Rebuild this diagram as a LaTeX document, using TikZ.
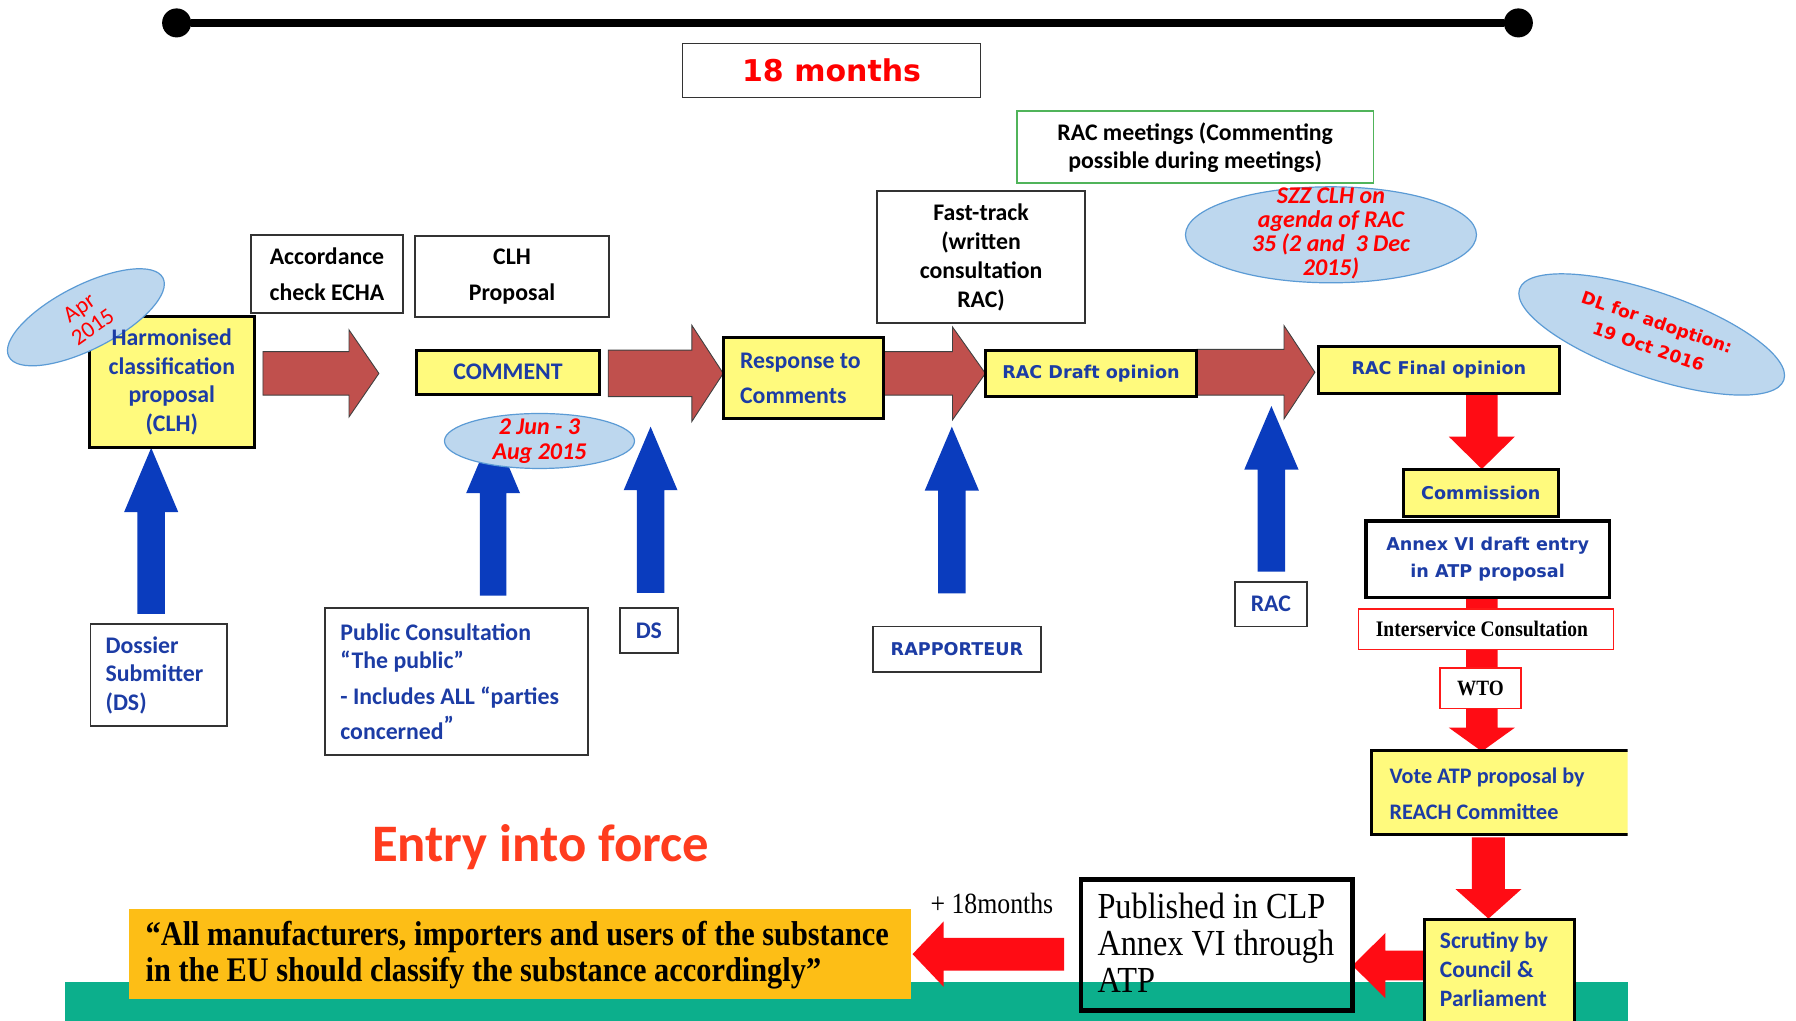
\documentclass[tikz,border=0pt]{standalone}
\usepackage{fontspec}
\setmainfont{Liberation Serif}
\newfontfamily\calfont{Carlito}
\newfontfamily\verdfont{DejaVu Sans}
\newfontfamily\narrowserif[FakeStretch=0.88]{Liberation Serif}
\usetikzlibrary{fit,shapes.geometric}

\definecolor{boxyellow}{RGB}{255,250,125}
\definecolor{textblue}{RGB}{28,60,165}
\definecolor{arrowblue}{RGB}{10,60,190}
\definecolor{brickred}{RGB}{192,80,77}
\definecolor{alertred}{RGB}{255,12,20}
\definecolor{bubblefill}{RGB}{189,215,238}
\definecolor{bubbleline}{RGB}{91,155,213}
\definecolor{meetgreen}{RGB}{80,180,90}
\definecolor{bandgreen}{RGB}{12,175,140}
\definecolor{quoteorange}{RGB}{253,190,22}
\definecolor{entryred}{RGB}{255,60,30}

% block arrow pointing up/down: [style]{x}{y start}{y head base}{y tip}{shaft half}{head half}
\newcommand\vblock[7][]{\path[#1] ({#2-#6},#3) -- ({#2-#6},#4) -- ({#2-#7},#4) -- (#2,#5)
  -- ({#2+#7},#4) -- ({#2+#6},#4) -- ({#2+#6},#3) -- cycle;}
% block arrow pointing left/right: [style]{y}{x start}{x head base}{x tip}{shaft half}{head half}
\newcommand\hblock[7][]{\path[#1] (#3,{#2-#6}) -- (#4,{#2-#6}) -- (#4,{#2-#7}) -- (#5,#2)
  -- (#4,{#2+#7}) -- (#4,{#2+#6}) -- (#3,{#2+#6}) -- cycle;}

\tikzset{
  ybox/.style={draw=black, line width=3pt, fill=boxyellow, inner sep=0pt},
  wbox/.style={draw=black!80, line width=1.8pt, fill=white, inner sep=0pt},
  cal/.style={font=\calfont\bfseries\fontsize{23.8pt}{#1}\selectfont},
  verd/.style={font=\verdfont\bfseries\fontsize{17.6pt}{#1}\selectfont},
  label/.style={inner sep=0pt, align=center},
  bluetext/.style={text=textblue},
  bubble/.style={ellipse, draw=bubbleline, line width=1.2pt, fill=bubblefill, inner sep=0pt},
  bubbletext/.style={text=red, align=center, font=\calfont\bfseries\itshape\fontsize{24pt}{24pt}\selectfont},
  brownarrow/.style={fill=brickred, draw=black!75, line width=0.9pt},
  bluearrow/.style={fill=arrowblue},
  redarrow/.style={fill=alertred},
}

\begin{document}
\begin{tikzpicture}[x=1.1454pt, y=-1.1454pt]
\useasboundingbox (0,0) rectangle (1568,891);
\fill[white] (0,0) rectangle (1568,891);

% time line
\node[circle, fill=black, minimum size=29pt, inner sep=0pt] (tl) at (154.2,20) {};
\node[circle, fill=black, minimum size=29pt, inner sep=0pt] (tr) at (1325.6,20) {};
\draw[line width=8.5pt] (tl) -- (tr);

\node[wbox, line width=1.6pt, fit={(596,38) (856,85)}] (months) {};
\node[label, text=red, font=\verdfont\bfseries\fontsize{30pt}{36pt}\selectfont] (monthstext) at (months.center) {18 months};

% upper annotation boxes
\node[wbox, draw=meetgreen, line width=1.6pt, fit={(888,97) (1199,160)}] (meet) {};
\node[label, cal=28pt] (meettext) at (meet.center) {RAC meetings (Commenting\\possible during meetings)};
\node[wbox, fit={(766,167) (947,282)}] (fast) {};
\node[label, cal=29pt] (fasttext) at (fast.center) {Fast-track\\(written\\consultation\\RAC)};
\node[wbox, fit={(219,205) (352,273)}] (accord) {};
\node[label, cal=36pt] (accordtext) at (accord.center) {Accordance\\check ECHA};
\node[wbox, fit={(362,206) (532,277)}] (clhprop) {};
\node[label, cal=36pt] (clhproptext) at (clhprop.center) {CLH\\Proposal};

% main flow arrows
\hblock[brownarrow]{326}{229.6}{304.7}{330.8}{19}{38}
\hblock[brownarrow]{326}{531}{604}{631.4}{20.3}{42}
\hblock[brownarrow]{326}{771}{831.6}{860.3}{19}{40.5}
\hblock[brownarrow]{325}{1045}{1121}{1148}{20}{40.7}

% contributions from the actors
\vblock[bluearrow]{132}{536}{447}{391}{12}{23.6}
\vblock[bluearrow]{430.5}{520}{430.5}{375}{11.5}{23.5}
\vblock[bluearrow]{568}{517.5}{428}{372.5}{12}{23.5}
\vblock[bluearrow]{831}{518}{428.4}{372.5}{12}{23.7}
\vblock[bluearrow]{1110}{499}{410}{354.5}{12}{23.7}

% adoption chain
\vblock[redarrow]{1293.7}{343}{381.2}{409.5}{13.8}{28.8}
\vblock[redarrow]{1293.7}{521}{635.3}{656}{13.8}{28.8}
\vblock[redarrow]{1299.5}{731}{776.3}{802}{14.4}{28.7}

% bottom band
\fill[bandgreen] (57,857) rectangle (1421,900);

% process steps
\node[ybox, fit={(78,276) (222,391)}] (harm) {};
\node[ybox, fit={(364,306) (523,344)}] (comment) {};
\node[label, bluetext, cal=24pt] (commenttext) at (comment.center) {COMMENT};
\node[ybox, fit={(632,295) (771,365)}] (resp) {};
\node[anchor=west, inner sep=0pt, align=left, bluetext, cal=35.5pt] (resptext) at (646,330.5) {Response to\\Comments};
\node[ybox, fit={(860,306) (1045,346)}] (draft) {};
\node[label, bluetext, verd=20pt] (drafttext) at (draft.center) {RAC Draft opinion};
\node[ybox, fit={(1150.7,302.7) (1361.7,343.4)}] (final) {};
\node[label, bluetext, verd=20pt] (finaltext) at (final.center) {RAC Final opinion};
\node[ybox, fit={(1225,410.3) (1360.7,450.5)}] (commission) {};
\node[label, bluetext, verd=20pt] (commissiontext) at (commission.center) {Commission};
\node[wbox, draw=black, line width=3.5pt, fit={(1192.6,454.7) (1405,521.8)}] (annex) {};
\node[label, bluetext, verd=27.5pt] (annextext) at (annex.center) {Annex VI draft entry\\in ATP proposal};
\node[wbox, draw=red!90, line width=1.5pt, fit={(1186,531.7) (1408.6,567)}] (inter) {};
\node[label, font=\narrowserif\bfseries\fontsize{22.2pt}{24pt}\selectfont] (intertext) at ([xshift=-4pt]inter.center) {Interservice Consultation};
\node[wbox, draw=red!90, line width=1.5pt, fit={(1257,583) (1328,618.5)}] (wto) {};
\node[label, font=\narrowserif\bfseries\fontsize{21.8pt}{24pt}\selectfont] (wtotext) at (wto.center) {WTO};
\begin{scope}
  \clip (0,0) rectangle (1421,891);
  \node[ybox, fit={(1197.5,655.5) (1450,728.7)}] (vote) {};
\end{scope}
\node[anchor=west, inner sep=0pt, align=left, bluetext, font=\calfont\bfseries\fontsize{22.2pt}{36.7pt}\selectfont]
  (votetext) at (1213,693) {Vote ATP proposal by\\REACH Committee};

% publication and entry into force
\hblock[redarrow]{843}{1243.4}{1209.5}{1180.8}{13}{28.5}
\hblock[redarrow]{833}{929}{823.8}{796.7}{14.3}{28.5}
\node[ybox, fit={(1243.4,802.5) (1374.7,905)}] (scrut) {};
\node[anchor=west, inner sep=0pt, align=left, bluetext, font=\calfont\bfseries\fontsize{23.5pt}{29.2pt}\selectfont]
  (scruttext) at (1257,846.5) {Scrutiny by\\Council \&\\Parliament};
\node[draw=black, line width=4.5pt, inner sep=0pt, fit={(943.8,768) (1180.8,882)}] (pub) {};
\node[anchor=west, inner sep=0pt, align=left, font=\narrowserif\fontsize{36.7pt}{36.7pt}\selectfont]
  (pubtext) at (958,823) {Published in CLP\\Annex VI through\\ATP};
\node[font=\narrowserif\fontsize{29.3pt}{30pt}\selectfont] (plus) at (866,789) {+ 18months};
\node[fill=quoteorange, inner sep=0pt, fit={(113,794) (795,872)}] (quote) {};
\node[anchor=west, inner sep=0pt, align=left, font=\narrowserif\bfseries\fontsize{34.5pt}{36.7pt}\selectfont]
  (quotetext) at (127,834) {“All manufacturers, importers and users of the substance\\in the EU should classify the substance accordingly”};
\node[text=entryred, font=\calfont\bfseries\fontsize{52.7pt}{60pt}\selectfont] (entry) at (472,740) {Entry into force};

% actors
\node[wbox, fit={(79,545) (198,634)}] (dossier) {};
\node[anchor=west, inner sep=0pt, align=left, bluetext, cal=28.6pt] (dossiertext) at (92,589.5) {Dossier\\Submitter\\(DS)};
\node[wbox, fit={(284,531) (513,659)}] (public) {};
\node[anchor=west, inner sep=0pt, align=left, bluetext, cal=28.6pt] (publictext) at (297,595)
  {Public Consultation\\“The public”\\[6.9pt]- Includes ALL “parties\\[6.9pt]concerned\raisebox{6pt}{”}};
\node[wbox, fit={(541,531) (592,570)}] (ds) {};
\node[label, bluetext, cal=24pt] (dstext) at (ds.center) {DS};
\node[wbox, fit={(762,547) (909,587)}] (rapp) {};
\node[label, bluetext, verd=20pt] (rapptext) at (rapp.center) {RAPPORTEUR};
\node[wbox, fit={(1078,508) (1141,547)}] (rac) {};
\node[label, bluetext, cal=24pt] (ractext) at (rac.center) {RAC};

% date bubbles
\node[bubble, minimum width=291pt, minimum height=96pt] (szz) at (1162,205) {};
\node[bubbletext] (szztext) at (1162,204) {SZZ CLH on\\agenda of RAC\\35 (2 and\ \ 3 Dec\\2015)};
\node[bubble, minimum width=190pt, minimum height=55pt] (jun) at (471,385) {};
\node[bubbletext, font=\calfont\bfseries\itshape\fontsize{24pt}{25pt}\selectfont] (juntext) at (471,385) {2 Jun - 3\\Aug 2015};
\node[bubble, rotate=-19, minimum width=279.5pt, minimum height=84.8pt] (dl) at (1442,292) {};
\node[rotate=-19, text=red, align=center, font=\verdfont\bfseries\fontsize{17.2pt}{26pt}\selectfont]
  (dltext) at (1443,292) {DL for adoption:\\19 Oct 2016};
\node[bubble, rotate=27, minimum width=173pt, minimum height=64pt] (apr) at (75,277) {};
\node[rotate=35, text=red, align=center, font=\calfont\fontsize{23pt}{23.7pt}\selectfont]
  (aprtext) at (75,277) {Apr\\2015};
\node[label, bluetext, cal=28.6pt] (harmtext) at (harm.center) {Harmonised\\classification\\proposal\\(CLH)};
\end{tikzpicture}
\end{document}
